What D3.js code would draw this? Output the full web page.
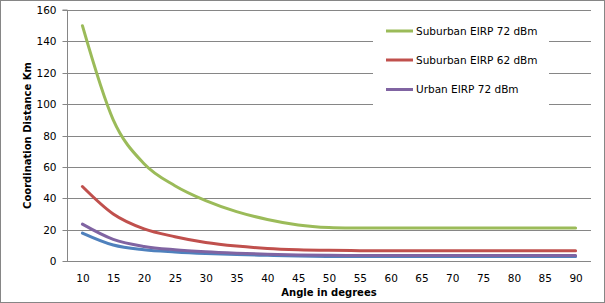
<!DOCTYPE html>
<html><head><meta charset="utf-8">
<script src="https://cdn.jsdelivr.net/npm/d3@7"></script>
<style>body{margin:0;background:#fff}svg{display:block}</style>
</head><body>
<svg id="c" width="605" height="303"></svg>
<script>
const angles = [10,15,20,25,30,35,40,45,50,55,60,65,70,75,80,85,90];
const suburban72 = [150,90,62,48,38.5,31.5,26.5,23,21.3,21,21,21,21,21,21,21,21];
const suburban62 = [47.5,30,20.5,15.5,11.8,9.5,8,7.2,6.8,6.6,6.6,6.6,6.6,6.6,6.6,6.6,6.6];
const urban72 = [23.5,13.8,9.3,7.2,5.9,5,4.3,3.9,3.6,3.5,3.5,3.5,3.5,3.5,3.5,3.5,3.5];
const urban62 = [17.8,10.2,7.2,5.8,4.8,4.1,3.6,3.2,2.9,2.8,2.8,2.8,2.8,2.8,2.8,2.8,2.8];
const yTicks = [0,20,40,60,80,100,120,140,160];
const seriesNames = ["Suburban EIRP 72 dBm","Suburban EIRP 62 dBm","Urban EIRP 72 dBm","Urban EIRP 62 dBm"];
const seriesColors = ["#9BBB59","#C0504D","#8064A2","#4F81BD"];
const legendNames = ["Suburban EIRP 72 dBm","Suburban EIRP 62 dBm","Urban EIRP 72 dBm"];
const yTitle = "Coordination  Distance  Km";
const xTitle = "Angle in degrees";

const svg = d3.select("#c");
const L=67,R=591,T=10,B=261;
const grid="#868686";
svg.append("rect").attr("x",0.5).attr("y",0.5).attr("width",604).attr("height",302)
  .attr("fill","#fff").attr("stroke",grid);

const x = d3.scalePoint().domain(angles).range([L,R]).padding(0.5);
const y = d3.scaleLinear().domain([0,160]).range([B,T]);

// gridlines
svg.append("g").selectAll("line").data(yTicks.filter(d=>d>0)).join("line")
  .attr("x1",L).attr("x2",R).attr("y1",d=>Math.round(y(d))+0.5).attr("y2",d=>Math.round(y(d))+0.5)
  .attr("stroke",grid).attr("stroke-width",1);

// y axis
const ya = svg.append("g").attr("transform",`translate(${L+0.5},0)`)
  .call(d3.axisLeft(y).tickValues(yTicks).tickSize(5).tickPadding(6).tickFormat(d3.format("d")));
ya.select(".domain").attr("stroke",grid).attr("d",`M-5,${T}H0V${B+0.5}`);
ya.selectAll(".tick line").attr("stroke",grid);
ya.selectAll(".tick").attr("transform",d=>`translate(0,${Math.round(y(d))+0.5})`);
ya.selectAll("text").attr("font-family","DejaVu Sans").attr("font-size","10.5px").attr("fill","#000");

// x axis
const xa = svg.append("g").attr("transform",`translate(0,${B+0.5})`)
  .call(d3.axisBottom(x).tickSize(0).tickPadding(13));
xa.select(".domain").attr("stroke",grid).attr("d",`M${L},0H${R}`);
xa.selectAll("text").attr("font-family","DejaVu Sans").attr("font-size","10.5px").attr("fill","#000");

// lines
const allSeries = [suburban72,suburban62,urban72,urban62];
const line = d3.line().x((d,i)=>x(angles[i])).y(d=>y(d)).curve(d3.curveCatmullRom.alpha(0));
[3,2,1,0].forEach(k=>{
  svg.append("path").datum(allSeries[k]).attr("d",line).attr("fill","none")
    .attr("stroke",seriesColors[k]).attr("stroke-width",3).attr("stroke-linecap","round");
});

// legend
const lg = svg.append("g");
lg.append("rect").attr("x",373).attr("y",16).attr("width",176).attr("height",92).attr("fill","#fff");
legendNames.forEach((n,i)=>{
  const yy=[31,60,89.5][i];
  lg.append("line").attr("x1",386).attr("x2",413).attr("y1",yy).attr("y2",yy)
    .attr("stroke",seriesColors[seriesNames.indexOf(n)]).attr("stroke-width",3);
  lg.append("text").attr("x",416).attr("y",yy).attr("dy","0.35em")
    .attr("font-family","DejaVu Sans").attr("font-size","10.5px").text(n);
});

// titles
svg.append("text").attr("transform",`translate(27,${(T+B)/2}) rotate(-90)`)
  .attr("text-anchor","middle").attr("dy","0.35em").attr("font-family","DejaVu Sans")
  .attr("font-weight","bold").attr("font-size","10px").text(yTitle);
svg.append("text").attr("x",(L+R)/2).attr("y",292).attr("dy","0.35em").attr("text-anchor","middle")
  .attr("font-family","DejaVu Sans").attr("font-weight","bold").attr("font-size","10px").text(xTitle);
</script>
</body></html>
